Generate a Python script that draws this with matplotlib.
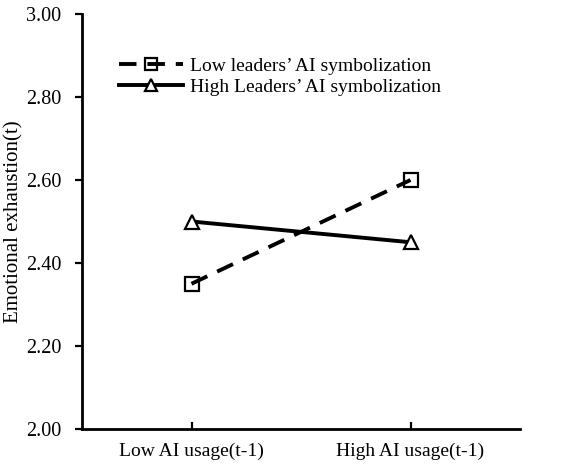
import matplotlib.pyplot as plt
import numpy as np

plt.rcParams["font.family"] = ["Liberation Serif", "DejaVu Serif"]

categories = ["Low AI usage(t-1)", "High AI usage(t-1)"]
low_sym = [2.35, 2.60]
high_sym = [2.50, 2.45]
series_names = ["Low leaders\u2019 AI symbolization", "High Leaders\u2019 AI symbolization"]
yticks = [2.00, 2.20, 2.40, 2.60, 2.80, 3.00]

fig = plt.figure(figsize=(5.69, 4.66), dpi=100)
ax = fig.add_axes([82 / 569, 37 / 466, 438 / 569, 415 / 466])

x = np.arange(len(categories))
ax.plot(x, low_sym, color="black", lw=2.8, ls=(0, (4.5, 2.8)), marker="s", ms=10,
        mfc="none", mec="black", mew=1.6, label=series_names[0])
ax.plot(x, high_sym, color="black", lw=2.8, ls="-", marker="^", ms=10,
        mfc="white", mec="black", mew=1.6, label=series_names[1])

ax.set_xlim(-0.5, 1.5)
ax.set_ylim(2.0, 3.0)
ax.set_yticks(yticks)
ax.set_yticklabels([f"{v:.2f}" for v in yticks], fontsize=14.5)
ax.set_xticks(x)
ax.set_xticklabels(categories, fontsize=14)
ax.tick_params(axis="y", direction="out", length=5, width=1.6, pad=10)
ax.tick_params(axis="x", direction="in", length=5, width=1.6, pad=10)
ax.set_ylabel("Emotional exhaustion(t)", fontsize=15, labelpad=2)

for s in ["top", "right"]:
    ax.spines[s].set_visible(False)
for s in ["left", "bottom"]:
    ax.spines[s].set_linewidth(2.0)

ax.legend(loc="upper left", bbox_to_anchor=(0.066, 0.915), frameon=False, fontsize=14,
          handlelength=3.3, handletextpad=0.35, labelspacing=0.2, borderaxespad=0,
          markerscale=0.85)

fig.savefig("out.png", dpi=100)
